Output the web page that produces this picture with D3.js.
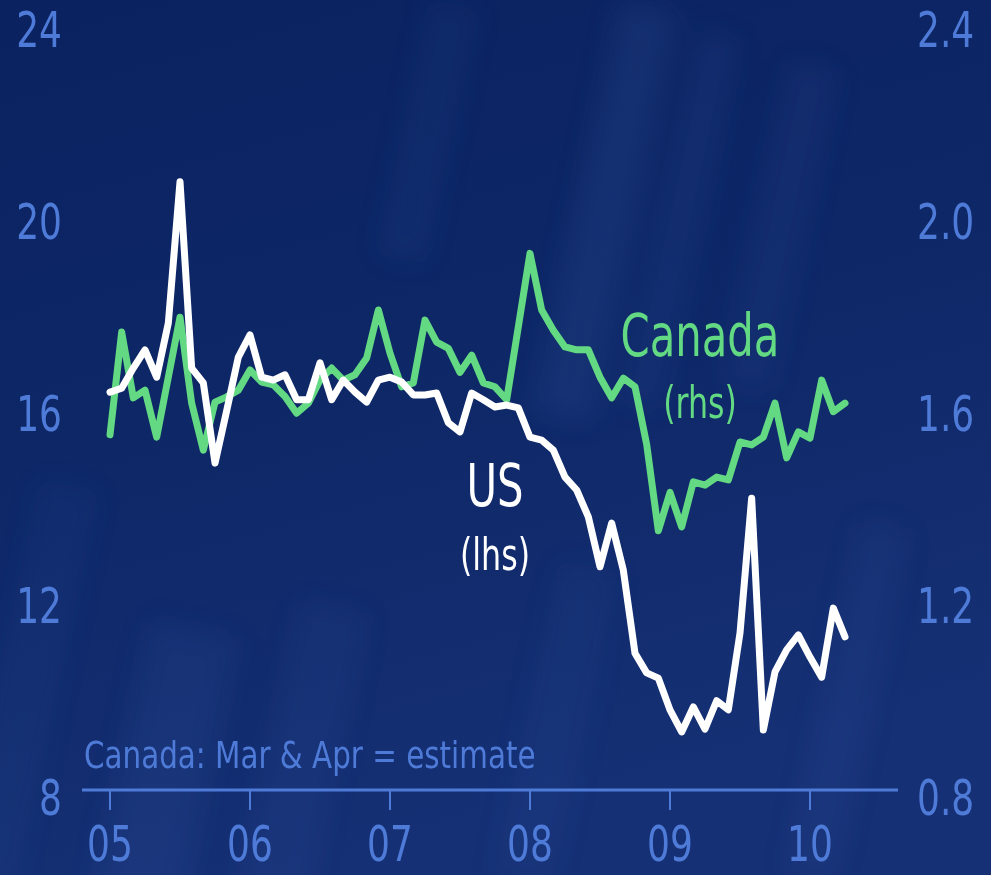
<!DOCTYPE html>
<html>
<head>
<meta charset="utf-8">
<script src="https://cdn.jsdelivr.net/npm/d3@7"></script>
<style>
  html, body { margin: 0; padding: 0; background: #0b2462; }
  svg { display: block; }
  text { font-family: "Liberation Sans Narrow", "DejaVu Sans Condensed", "Roboto", sans-serif; }
</style>
</head>
<body>
<div id="chart"></div>
<script>
// monthly, Jan 2005 .. Apr 2010
const startYear = 2005
const usValues = [
  16.29, 16.37, 16.79, 17.17, 16.6, 17.73, 20.67, 16.79, 16.48, 14.81, 15.9, 17.02,
  17.48, 16.6, 16.54, 16.65, 16.13, 16.13, 16.9, 16.13, 16.54, 16.29, 16.08, 16.54,
  16.6, 16.5, 16.23, 16.23, 16.27, 15.65, 15.46, 16.27, 16.13, 15.98, 16.02, 15.96,
  15.35, 15.29, 15.08, 14.52, 14.25, 13.69, 12.65, 13.56, 12.58, 10.85, 10.44, 10.33,
  9.67, 9.21, 9.73, 9.27, 9.86, 9.67, 11.27, 14.08, 9.25, 10.46, 10.92, 11.23,
  10.77, 10.35, 11.79, 11.19
]
const canadaValues = [
  1.54, 1.754, 1.617, 1.633, 1.535, 1.66, 1.785, 1.606, 1.508, 1.608, 1.619, 1.633,
  1.675, 1.65, 1.644, 1.62, 1.585, 1.606, 1.654, 1.679, 1.654, 1.665, 1.70, 1.80,
  1.71, 1.64, 1.648, 1.779, 1.733, 1.72, 1.67, 1.706, 1.648, 1.64, 1.613, 1.765,
  1.918, 1.80, 1.758, 1.723, 1.717, 1.717, 1.66, 1.617, 1.658, 1.64, 1.52, 1.34,
  1.42, 1.348, 1.442, 1.435, 1.452, 1.446, 1.525, 1.519, 1.535, 1.606, 1.492, 1.546,
  1.533, 1.654, 1.588, 1.606
]
const yearTicks = [2005, 2006, 2007, 2008, 2009, 2010]
const yearLabels = ['05', '06', '07', '08', '09', '10']
const leftTicks = [8, 12, 16, 20, 24]
const rightTicks = [0.8, 1.2, 1.6, 2.0, 2.4]

const width = 991, height = 875
const axisColor = '#4f7bd8'
const green = '#62d982'
const narrow = 0.8 // squeeze text to mimic a condensed face

const svg = d3.select('#chart').append('svg')
  .attr('width', width)
  .attr('height', height)

// background with streaks
const defs = svg.append('defs')
const bg = defs.append('linearGradient').attr('id', 'bg')
  .attr('x1', 0).attr('y1', 0).attr('x2', 0.3).attr('y2', 1)
bg.append('stop').attr('offset', 0).attr('stop-color', '#0b2260')
bg.append('stop').attr('offset', 0.55).attr('stop-color', '#0e2868')
bg.append('stop').attr('offset', 1).attr('stop-color', '#163075')
defs.append('filter').attr('id', 'blur')
  .attr('x', '-50%').attr('y', '-50%').attr('width', '200%').attr('height', '200%')
  .append('feGaussianBlur').attr('stdDeviation', 14)

svg.append('rect').attr('width', width).attr('height', height).attr('fill', 'url(#bg)')

const streaks = [
  [620, 0, 60, 420, 0.10], [700, 30, 40, 380, 0.08], [790, 60, 50, 330, 0.07],
  [430, 0, 50, 260, 0.06], [150, 620, 90, 300, 0.09], [300, 600, 70, 300, 0.07],
  [560, 560, 60, 320, 0.06], [860, 520, 50, 360, 0.07], [40, 480, 60, 400, 0.06]
]
svg.append('g').attr('filter', 'url(#blur)')
  .selectAll('rect').data(streaks).join('rect')
  .attr('x', d => d[0]).attr('y', d => d[1])
  .attr('width', d => d[2]).attr('height', d => d[3])
  .attr('fill', '#5a86d8').attr('opacity', d => d[4])
  .attr('transform', d => `rotate(12, ${d[0]}, ${d[1]})`)

// scales
const x = d3.scaleLinear().domain([2005, 2010]).range([110, 810])
const yL = d3.scaleLinear().domain([8, 24]).range([790, 22])
const yR = d3.scaleLinear().domain([0.8, 2.4]).range([790, 22])
const monthX = i => x(startYear + i / 12)

const place = (px, py, sx) => `translate(${px},${py}) scale(${sx || narrow},1)`

// x axis
svg.append('line')
  .attr('x1', 82).attr('x2', 898)
  .attr('y1', yL(8)).attr('y2', yL(8))
  .attr('stroke', axisColor).attr('stroke-width', 3)

svg.append('g').selectAll('line').data(yearTicks).join('line')
  .attr('x1', d => x(d)).attr('x2', d => x(d))
  .attr('y1', yL(8)).attr('y2', yL(8) + 20)
  .attr('stroke', axisColor).attr('stroke-width', 2)

svg.append('g').selectAll('text').data(yearTicks).join('text')
  .attr('transform', d => place(x(d), 861))
  .attr('text-anchor', 'middle')
  .attr('fill', axisColor).attr('font-size', 50)
  .text((d, i) => yearLabels[i])

// left and right value labels
svg.append('g').selectAll('text').data(leftTicks).join('text')
  .attr('transform', d => place(62, yL(d) + 25))
  .attr('text-anchor', 'end')
  .attr('fill', axisColor).attr('font-size', 50)
  .text(d => d)

svg.append('g').selectAll('text').data(rightTicks).join('text')
  .attr('transform', d => place(917, yR(d) + 25))
  .attr('text-anchor', 'start')
  .attr('fill', axisColor).attr('font-size', 50)
  .text(d => d.toFixed(1))

// lines
const lineL = d3.line().x((d, i) => monthX(i)).y(d => yL(d))
const lineR = d3.line().x((d, i) => monthX(i)).y(d => yR(d))

svg.append('path').datum(canadaValues)
  .attr('d', lineR)
  .attr('fill', 'none').attr('stroke', green)
  .attr('stroke-width', 7).attr('stroke-linejoin', 'round').attr('stroke-linecap', 'round')

svg.append('path').datum(usValues)
  .attr('d', lineL)
  .attr('fill', 'none').attr('stroke', '#ffffff')
  .attr('stroke-width', 7).attr('stroke-linejoin', 'round').attr('stroke-linecap', 'round')

// annotations
svg.append('text').attr('transform', place(700, 356))
  .attr('text-anchor', 'middle').attr('fill', green).attr('font-size', 58)
  .text('Canada')
svg.append('text').attr('transform', place(700, 418))
  .attr('text-anchor', 'middle').attr('fill', green).attr('font-size', 44)
  .text('(rhs)')
svg.append('text').attr('transform', place(495, 506))
  .attr('text-anchor', 'middle').attr('fill', '#ffffff').attr('font-size', 58)
  .text('US')
svg.append('text').attr('transform', place(495, 570))
  .attr('text-anchor', 'middle').attr('fill', '#ffffff').attr('font-size', 44)
  .text('(lhs)')

svg.append('text').attr('transform', place(84, 768, 0.86))
  .attr('fill', axisColor).attr('font-size', 38)
  .text('Canada: Mar & Apr = estimate')
</script>
</body>
</html>
